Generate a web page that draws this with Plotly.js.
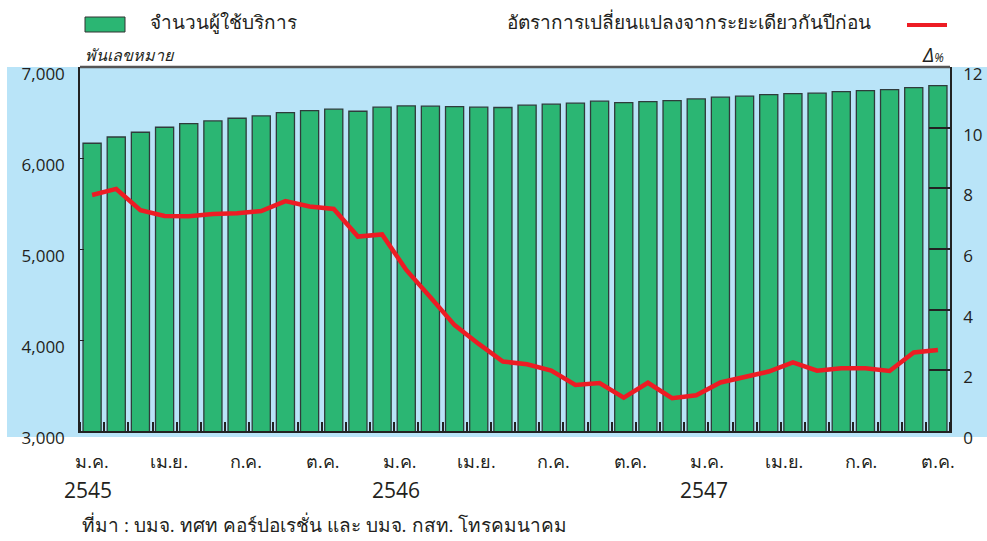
<!DOCTYPE html>
<html>
<head>
<meta charset="utf-8">
<script src="https://cdn.plot.ly/plotly-3.0.1.min.js"></script>
<style>
  html, body { margin: 0; padding: 0; background: #ffffff; }
  #chart { width: 987px; height: 541px; }
</style>
</head>
<body>
<div id="chart"></div>
<script>
// Monthly data, ม.ค. 2545 - ธ.ค. 2547
const subscribers = [
    6162, 6231, 6283, 6338, 6378, 6407, 6437, 6462, 6499, 6521, 6536, 6514,
    6558, 6572, 6569, 6565, 6558, 6555, 6580, 6591, 6602, 6624, 6609, 6620,
    6631, 6649, 6668, 6679, 6697, 6708, 6712, 6730, 6741, 6752, 6774, 6796
];
const changeRate = [
    7.78, 7.98, 7.28, 7.09, 7.08, 7.15, 7.18, 7.25, 7.58, 7.40, 7.32, 6.41,
    6.48, 5.31, 4.41, 3.49, 2.87, 2.29, 2.20, 1.99, 1.52, 1.58, 1.10, 1.59,
    1.08, 1.18, 1.60, 1.77, 1.96, 2.26, 1.99, 2.07, 2.07, 1.98, 2.59, 2.67
];
const monthLabels = ['ม.ค.', 'เม.ย.', 'ก.ค.', 'ต.ค.', 'ม.ค.', 'เม.ย.', 'ก.ค.', 'ต.ค.', 'ม.ค.', 'เม.ย.', 'ก.ค.', 'ต.ค.'];
const yearLabels = ['2545', '2546', '2547'];

const barName = 'จำนวนผู้ใช้บริการ';
const lineName = 'อัตราการเปลี่ยนแปลงจากระยะเดียวกันปีก่อน';
const sourceText = 'ที่มา : บมจ. ทศท คอร์ปอเรชั่น และ บมจ. กสท. โทรคมนาคม';

const idx = subscribers.map((_, i) => i);
const last = subscribers.length - 1;
// month labels are spread evenly from the first bar to the last one
const tickPos = monthLabels.map((_, k) => k * last / (monthLabels.length - 1));

const BLUE = '#b9e4f8';
const GREEN = '#2bb673';
const RED = '#ed1c24';
const TXT = '#231f20';
const FONT = 'Open Sans, Noto Sans, sans-serif';

const bars = {
    type: 'bar',
    x: idx,
    y: subscribers,
    name: barName,
    marker: { color: GREEN, line: { color: '#2f3b3b', width: 1.3 } },
    yaxis: 'y',
    showlegend: false
};

const line = {
    type: 'scatter',
    mode: 'lines',
    x: idx,
    y: changeRate,
    name: lineName,
    line: { color: RED, width: 4.5 },
    yaxis: 'y2',
    showlegend: false
};

// plot area in pixels: x 80..950, y 67..431
const px = x => (x - 80) / 870;
const py = y => (431 - y) / 364;

const layout = {
    width: 987,
    height: 541,
    margin: { t: 67, b: 110, l: 80, r: 37 },
    paper_bgcolor: '#ffffff',
    plot_bgcolor: BLUE,
    font: { family: FONT, color: TXT },
    bargap: 0.25,
    showlegend: false,
    xaxis: {
        range: [-0.5, last + 0.5],
        tickmode: 'array',
        tickvals: tickPos,
        ticktext: monthLabels,
        ticks: '',
        ticklabelstandoff: 13,
        tickfont: { size: 18, color: TXT },
        showgrid: false,
        zeroline: false,
        showline: true,
        linecolor: '#222',
        linewidth: 2,
        mirror: false,
        minor: {
            tickmode: 'linear',
            tick0: 0.5,
            dtick: 1,
            ticks: 'inside',
            ticklen: 9,
            tickcolor: '#222',
            tickwidth: 1.5,
            showgrid: false
        }
    },
    yaxis: {
        range: [3000, 7000],
        tickvals: [3000, 4000, 5000, 6000, 7000],
        tickformat: ',d',
        ticks: 'inside',
        ticklen: 4,
        tickcolor: '#222',
        ticklabelstandoff: 10,
        ticklabelshift: 7,
        tickfont: { size: 17, color: TXT },
        showgrid: false,
        zeroline: false,
        showline: true,
        linecolor: '#222',
        linewidth: 1.5
    },
    yaxis2: {
        range: [0, 12],
        tickvals: [0, 2, 4, 6, 8, 10, 12],
        overlaying: 'y',
        side: 'right',
        ticks: 'inside',
        ticklen: 21,
        tickcolor: '#222',
        tickwidth: 1.5,
        ticklabelstandoff: 8,
        ticklabelshift: 7,
        tickfont: { size: 17, color: TXT },
        showgrid: false,
        zeroline: false,
        showline: true,
        linecolor: '#222',
        linewidth: 1.5
    },
    shapes: [
        // light blue panel behind the axes
        {
            type: 'rect', xref: 'paper', yref: 'paper', layer: 'below',
            x0: px(7), x1: px(987), y0: py(437), y1: py(67),
            fillcolor: BLUE, line: { width: 0 }
        },
        // top border
        {
            type: 'line', xref: 'paper', yref: 'paper',
            x0: 0, x1: 1, y0: 1, y1: 1,
            line: { color: '#555', width: 2.5 }
        },
        // legend swatches
        {
            type: 'rect', xref: 'paper', yref: 'paper',
            x0: px(85), x1: px(125), y0: py(32), y1: py(17),
            fillcolor: GREEN, line: { color: '#333', width: 1 }
        },
        {
            type: 'line', xref: 'paper', yref: 'paper',
            x0: px(907), x1: px(947), y0: py(25), y1: py(25),
            line: { color: RED, width: 4 }
        }
    ],
    annotations: [
        {
            text: barName, xref: 'paper', yref: 'paper',
            x: px(148), y: py(22), xanchor: 'left', yanchor: 'middle',
            showarrow: false, font: { size: 19, color: TXT }
        },
        {
            text: lineName, xref: 'paper', yref: 'paper',
            x: px(505), y: py(22), xanchor: 'left', yanchor: 'middle',
            showarrow: false, font: { size: 19, color: TXT }
        },
        {
            text: '<i>พันเลขหมาย</i>', xref: 'paper', yref: 'paper',
            x: px(83), y: py(55), xanchor: 'left', yanchor: 'middle',
            showarrow: false, font: { size: 16, color: TXT }
        },
        {
            text: '<i>Δ<span style="font-size:12px">%</span></i>', xref: 'paper', yref: 'paper',
            x: px(946), y: py(55), xanchor: 'right', yanchor: 'middle',
            showarrow: false, font: { size: 20, color: TXT }
        },
        ...yearLabels.map((yr, k) => ({
            text: yr, xref: 'x', yref: 'paper',
            x: tickPos[k * 4] - 0.15, y: py(490), xanchor: 'center', yanchor: 'middle',
            showarrow: false, font: { size: 21, color: TXT }
        })),
        {
            text: sourceText, xref: 'paper', yref: 'paper',
            x: px(80), y: py(525), xanchor: 'left', yanchor: 'middle',
            showarrow: false, font: { size: 19, color: TXT }
        }
    ]
};

Plotly.newPlot('chart', [bars, line], layout, { displayModeBar: false, responsive: false });
</script>
</body>
</html>
